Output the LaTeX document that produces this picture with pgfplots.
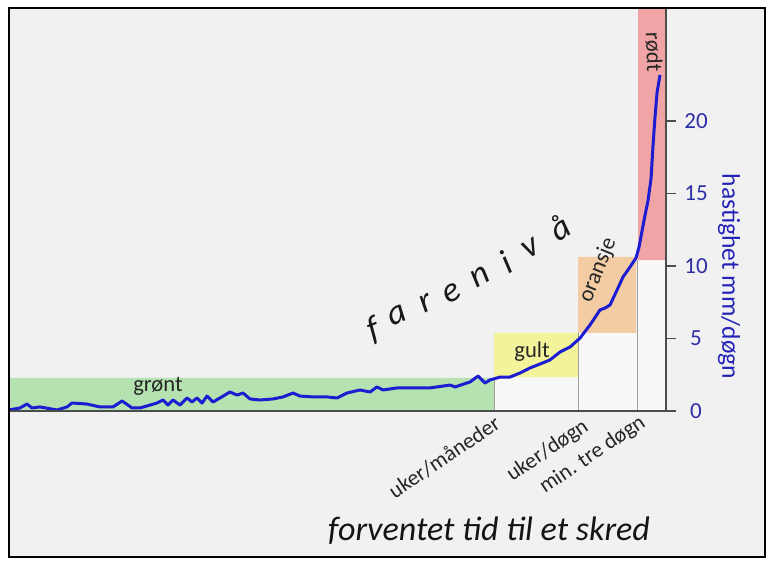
\documentclass[border=0pt]{standalone}
\usepackage{fontspec}
\setmainfont{Carlito}
\usepackage{pgfplots}
\pgfplotsset{compat=1.18}
\definecolor{bg}{HTML}{F1F1F1}
\definecolor{bgw}{HTML}{F8F8F8}
\definecolor{grn}{HTML}{B4E2B0}
\definecolor{ylw}{HTML}{F3F39C}
\definecolor{org}{HTML}{F3CCA4}
\definecolor{rd}{HTML}{F0A4A6}
\definecolor{crv}{HTML}{1C1CD0}
\definecolor{tickc}{HTML}{2E2EA6}
\definecolor{titc}{HTML}{2424B8}
\definecolor{txt}{HTML}{262626}
\begin{document}
\begin{tikzpicture}
\fill[white] (0,0) rectangle (387pt,283.5pt);
\fill[bg] (4.5pt,5pt) rectangle (382.5pt,279.5pt);
\begin{axis}[
 at={(4.5pt,78pt)}, anchor=south west,
 scale only axis, width=328.5pt, height=201.5pt,
 xmin=9, xmax=666, ymin=0, ymax=27.79,
 axis x line=bottom, axis y line=right,
 axis line style={-, draw=gray!60!black, line width=0.6pt},
 xtick=\empty,
 ytick={0,5,10,15,20},
 tick align=outside, major tick length=5pt,
 ytick style={draw=gray!60!black, line width=0.6pt},
 yticklabel style={anchor=center, xshift=10pt, font=\fontsize{11.5}{13}\selectfont, text=tickc},
 /pgf/number format/assume math mode=true,
 axis on top, clip=false,
]
% lighter areas below the bands
\addplot[fill=bgw, draw=none] coordinates {(494,0) (578,0) (578,2.34) (494,2.34) (494,0)};
\addplot[fill=bgw, draw=none] coordinates {(578,0) (637,0) (637,5.38) (578,5.38) (578,0)};
\addplot[fill=bgw, draw=none] coordinates {(637,0) (666,0) (666,10.41) (637,10.41) (637,0)};
% bands
\addplot[fill=grn, draw=none] coordinates {(9,0) (494,0) (494,2.28) (9,2.28) (9,0)};
\addplot[fill=ylw, draw=none] coordinates {(494,2.34) (578,2.34) (578,5.38) (494,5.38) (494,2.34)};
\addplot[fill=org, draw=none] coordinates {(578,5.38) (636,5.38) (636,10.62) (578,10.62) (578,5.38)};
\addplot[fill=rd, draw=none] coordinates {(638,10.41) (666,10.41) (666,27.79) (638,27.79) (638,10.41)};
% separating lines
\addplot[gray!75, line width=0.5pt] coordinates {(494,0) (494,2.34)};
\addplot[gray!75, line width=0.5pt] coordinates {(578,0) (578,5.38)};
\addplot[gray!75, line width=0.5pt] coordinates {(637,0) (637,10.41)};
% velocity curve
\addplot[crv, line width=1.5pt, line join=round] coordinates {
(9,0.07) (20,0.21) (27,0.48) (32,0.21) (40,0.28) (57,0.07) (67,0.28) (72,0.55) (87,0.48) (100,0.28) (113,0.28) (122,0.69) (128,0.41) (132,0.21) (140,0.21) (150,0.41) (157,0.55) (163,0.76) (168,0.41) (173,0.76) (180,0.41) (187,0.90) (192,0.62) (197,0.90) (202,0.55) (207,1.03) (213,0.62) (220,0.90) (230,1.31) (237,1.10) (243,1.24) (250,0.83) (260,0.76) (273,0.83) (283,0.97) (293,1.24) (300,1.03) (313,0.97) (327,0.97) (337,0.90) (347,1.24) (360,1.45) (370,1.31) (377,1.66) (383,1.45) (397,1.59) (415,1.59) (430,1.59) (450,1.79) (455,1.66) (470,2.00) (478,2.41) (485,1.93) (490,2.14) (500,2.34) (510,2.34) (520,2.62) (530,2.97) (540,3.24) (550,3.52) (560,4.07) (570,4.41) (580,5.03) (590,5.93) (600,6.97) (605,7.10) (610,7.31) (617,8.34) (623,9.24) (630,9.93) (636,10.55) (639,11.30) (642,12.40) (645,13.50) (648,14.50) (651,16.00) (653,18.30) (655,20.28) (657,21.93) (660,23.17)};
% band labels
\node[font=\fontsize{11.3}{13}\selectfont, text=txt] at (axis cs:158,1.72) {grønt};
\node[font=\fontsize{11.3}{13}\selectfont, text=txt] at (axis cs:532,4.07) {gult};
\node[rotate=68, font=\fontsize{11.3}{13}\selectfont, text=txt] at (axis cs:598,9.7) {oransje};
\node[rotate=-88, font=\fontsize{11.3}{13}\selectfont, text=txt] at (axis cs:654,24.76) {rødt};
% farenivaa
\begin{scope}[every node/.style={font=\itshape\fontsize{17.5}{20}\selectfont, text=black!90}]
\node[rotate=22] at (axis cs:374,5.59) {f};
\node[rotate=24] at (axis cs:397,6.62) {a};
\node[rotate=26] at (axis cs:426,7.45) {r};
\node[rotate=28] at (axis cs:452,8.14) {e};
\node[rotate=29] at (axis cs:480,9.24) {n};
\node[rotate=30] at (axis cs:506,10.28) {i};
\node[rotate=31] at (axis cs:531,11.24) {v};
\node[rotate=32] at (axis cs:560,12.69) {å};
\end{scope}
% category labels
\begin{scope}[every node/.style={rotate=34, anchor=north east, inner sep=0pt, font=\fontsize{11}{13}\selectfont, text=txt}]
\node at (axis cs:493,-0.2) {uker/måneder};
\node at (axis cs:581,-0.38) {uker/døgn};
\node at (axis cs:638,-0.1) {min. tre døgn};
\end{scope}
% titles
\node[anchor=base, font=\itshape\fontsize{17}{20}\selectfont, text=black!92] at (axis cs:489,-8.9) {forventet tid til et skred};
\node[rotate=-90, font=\fontsize{12.8}{15}\selectfont, text=titc] at (axis cs:729,9.28) {hastighet mm/døgn};
\end{axis}
\draw[black, line width=1pt] (4.5pt,5pt) rectangle (382.5pt,279.5pt);
\end{tikzpicture}
\end{document}
